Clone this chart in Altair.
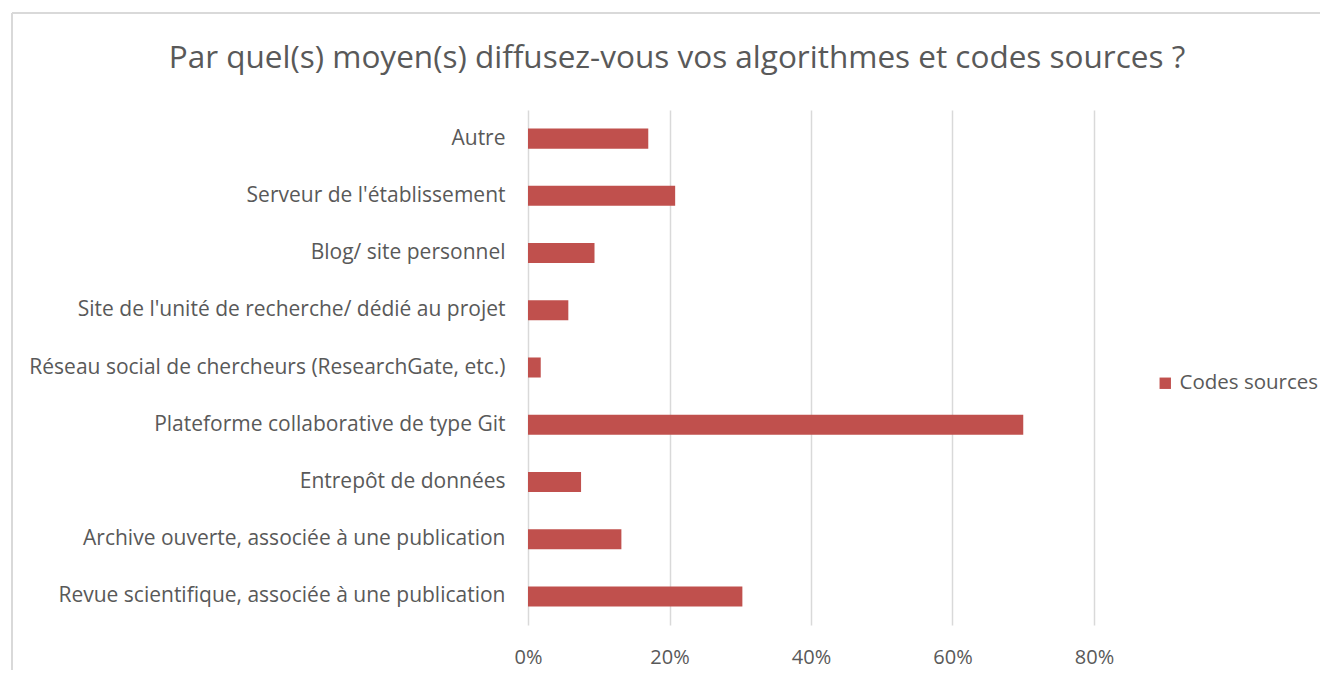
import altair as alt
import pandas as pd

title_text = "Par quel(s) moyen(s) diffusez-vous vos algorithmes et codes sources ?"
categories = [
    "Autre",
    "Serveur de l'établissement",
    "Blog/ site personnel",
    "Site de l'unité de recherche/ dédié au projet ",
    "Réseau social de chercheurs (ResearchGate, etc.)",
    "Plateforme collaborative de type Git",
    "Entrepôt de données ",
    "Archive ouverte, associée à une publication",
    "Revue scientifique, associée à une publication",
]
values = [0.170, 0.208, 0.094, 0.057, 0.018, 0.700, 0.075, 0.132, 0.303]
series = ["Codes sources"] * len(categories)

df = pd.DataFrame({"cat": categories, "val": values, "serie": series})

FONT = "Open Sans"
GRAY = "#595959"

bars = alt.Chart(df).mark_bar(color="#C0504D").encode(
    y=alt.Y("cat:N", sort=categories, title=None,
            scale=alt.Scale(paddingInner=0.65, paddingOuter=0.325),
            axis=alt.Axis(labelFont=FONT, labelFontSize=21, labelColor=GRAY,
                          labelPadding=23, ticks=False, domain=False, labelLimit=600)),
    x=alt.X("val:Q", title=None,
            scale=alt.Scale(domain=[0, 0.8], nice=False),
            axis=alt.Axis(format=".0%", values=[0, 0.2, 0.4, 0.6, 0.8],
                          labelFont=FONT, labelFontSize=20, labelColor=GRAY,
                          labelPadding=22, labelFlush=False, ticks=False, domain=False,
                          grid=True, gridColor="#D9D9D9", gridWidth=1.5)),
    color=alt.Color("serie:N", scale=alt.Scale(range=["#C0504D"]),
                    legend=alt.Legend(title=None, orient="none", legendX=627, legendY=263,
                                      symbolType="square", symbolSize=130,
                                      labelFont=FONT, labelFontSize=20.5, labelColor=GRAY,
                                      symbolStrokeWidth=0)),
)

frame_top = alt.Chart(df).mark_rule(color="#D9D9D9", strokeWidth=1.5).encode(
    x=alt.value(-516), x2=alt.value(800), y=alt.value(-97)
)
frame_left = alt.Chart(df).mark_rule(color="#D9D9D9", strokeWidth=1.5).encode(
    x=alt.value(-516), y=alt.value(-97), y2=alt.value(560)
)

title = alt.Chart(pd.DataFrame({"t": [title_text]})).mark_text(
    font=FONT, fontSize=31.5, color=GRAY, align="center", baseline="alphabetic"
).encode(text="t:N", x=alt.value(149), y=alt.value(-42))

chart = alt.layer(frame_top, frame_left, bars, title).properties(
    width=566, height=515,
    autosize=alt.AutoSizeParams(type="none"),
    padding={"left": 520, "top": 102, "right": 226, "bottom": 52},
).configure_view(stroke=None)

chart.save("out.html", embed_options={"renderer": "svg", "actions": False})
